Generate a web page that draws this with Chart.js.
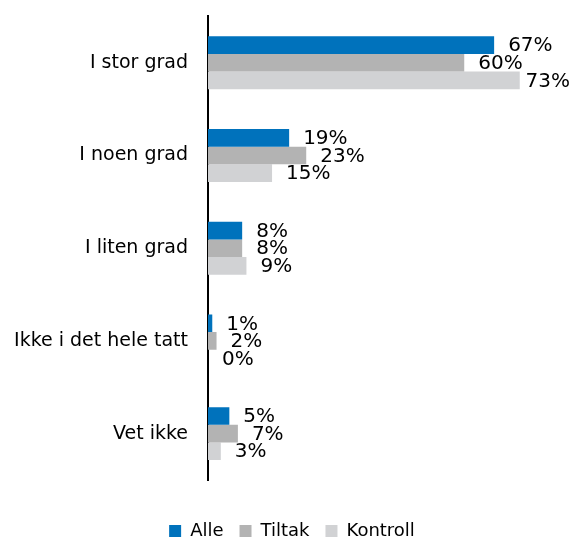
<!DOCTYPE html>
<html>
<head>
<meta charset="utf-8">
<script src="https://cdn.jsdelivr.net/npm/chart.js@4"></script>
<style>
  html, body { margin: 0; padding: 0; background: #fff; }
  #wrap { width: 571px; height: 541px; }
</style>
</head>
<body>
<div id="wrap"><canvas id="chart"></canvas></div>
<script>
const categories = ["I stor grad", "I noen grad", "I liten grad", "Ikke i det hele tatt", "Vet ikke"];
const alle = [67, 19, 8, 1, 5];
const tiltak = [60, 23, 8, 2, 7];
const kontroll = [73, 15, 9, 0, 3];

const FONT = "'DejaVu Sans', sans-serif";

// percentage labels just past the end of each bar, kept inside the canvas
const valueLabels = {
    id: "valueLabels",
    afterDatasetsDraw(chart) {
        const ctx = chart.ctx;
        ctx.save();
        ctx.font = "20px " + FONT;
        ctx.fillStyle = "#000";
        ctx.textAlign = "left";
        ctx.textBaseline = "middle";
        chart.data.datasets.forEach((ds, i) => {
            chart.getDatasetMeta(i).data.forEach((bar, j) => {
                const text = ds.data[j] + "%";
                const w = ctx.measureText(text).width;
                const x = Math.min(bar.x + 14, chart.width - w - 1);
                ctx.fillText(text, x, bar.y + 1);
            });
        });
        ctx.restore();
    }
};

let chart = new Chart(
    document.getElementById("chart"),
    {
        type: "bar",
        data: {
            labels: categories,
            datasets: [
                { label: "Alle", data: alle, backgroundColor: "#0072BC" },
                { label: "Tiltak", data: tiltak, backgroundColor: "#B3B3B3" },
                { label: "Kontroll", data: kontroll, backgroundColor: "#D1D2D4" }
            ]
        },
        options: {
            indexAxis: "y",
            responsive: true,
            maintainAspectRatio: false,
            animation: false,
            categoryPercentage: 0.57,
            barPercentage: 1.0,
            layout: {
                padding: { top: 0, right: 0, bottom: -9, left: 13 }
            },
            plugins: {
                legend: {
                    position: "bottom",
                    labels: {
                        font: { family: FONT, size: 18 },
                        color: "#000",
                        boxWidth: 12,
                        boxHeight: 12,
                        padding: 16
                    }
                },
                tooltip: { enabled: false }
            },
            scales: {
                x: {
                    min: 0,
                    max: 85,
                    // empty band between the bars and the legend
                    afterFit: scale => { scale.height = 26; },
                    grid: { display: false },
                    border: { display: false },
                    ticks: { display: false }
                },
                y: {
                    afterFit: scale => { scale.width = 195; },
                    grid: {
                        drawOnChartArea: false,
                        tickLength: 15,
                        tickColor: "rgba(0,0,0,0)"
                    },
                    border: {
                        color: "#000",
                        width: 2
                    },
                    ticks: {
                        font: { family: FONT, size: 19 },
                        color: "#000",
                        padding: 5
                    }
                }
            }
        },
        plugins: [valueLabels]
    }
);
</script>
</body>
</html>
